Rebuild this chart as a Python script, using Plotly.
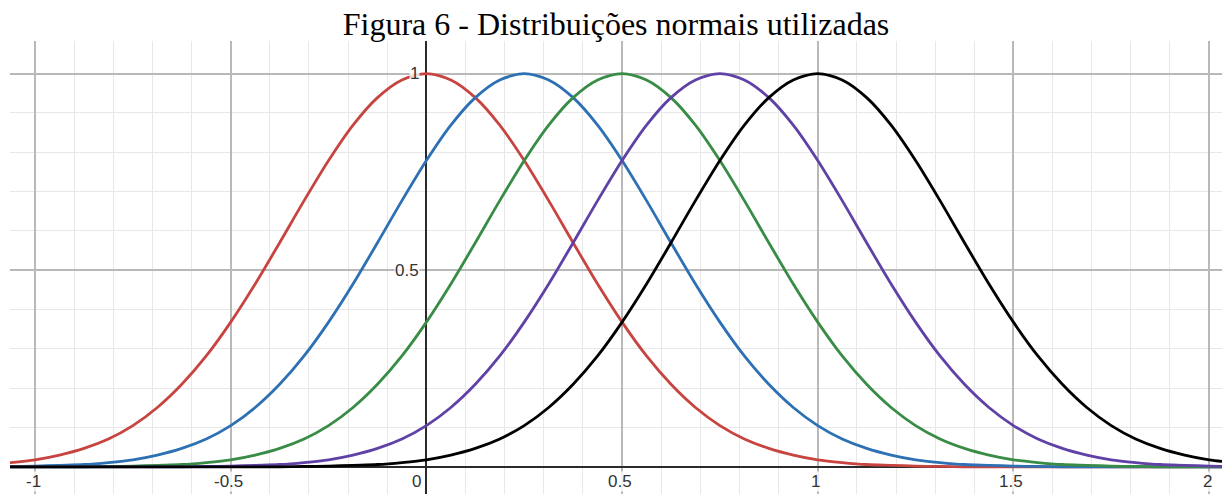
import plotly.graph_objects as go

# Sample positions along the horizontal axis (step 0.0625)
x_vals = [-1.125 + 0.0625 * i for i in range(53)]

# Curve heights at each sample position
red = [0.006, 0.011, 0.018, 0.030, 0.047, 0.071, 0.105, 0.151, 0.210, 0.282,
       0.368, 0.465, 0.570, 0.677, 0.779, 0.869, 0.939, 0.984,
       1.0,
       0.984, 0.939, 0.869, 0.779, 0.677, 0.570, 0.465, 0.368, 0.282, 0.210,
       0.151, 0.105, 0.071, 0.047, 0.030, 0.018, 0.011, 0.006, 0.004, 0.002, 0.001,
       0, 0, 0, 0, 0, 0, 0, 0, 0, 0, 0, 0, 0]
blue = [0, 0.001, 0.002, 0.004, 0.006, 0.011, 0.018, 0.030, 0.047, 0.071,
        0.105, 0.151, 0.210, 0.282, 0.368, 0.465, 0.570, 0.677, 0.779, 0.869,
        0.939, 0.984,
        1.0,
        0.984, 0.939, 0.869, 0.779, 0.677, 0.570, 0.465, 0.368, 0.282, 0.210,
        0.151, 0.105, 0.071, 0.047, 0.030, 0.018, 0.011, 0.006, 0.004, 0.002, 0.001,
        0, 0, 0, 0, 0, 0, 0, 0, 0]
green = [0, 0, 0, 0, 0,
         0.001, 0.002, 0.004, 0.006, 0.011, 0.018, 0.030, 0.047, 0.071, 0.105,
         0.151, 0.210, 0.282, 0.368, 0.465, 0.570, 0.677, 0.779, 0.869, 0.939, 0.984,
         1.0,
         0.984, 0.939, 0.869, 0.779, 0.677, 0.570, 0.465, 0.368, 0.282, 0.210,
         0.151, 0.105, 0.071, 0.047, 0.030, 0.018, 0.011, 0.006, 0.004, 0.002, 0.001,
         0, 0, 0, 0, 0]
purple = [0, 0, 0, 0, 0, 0, 0, 0, 0,
          0.001, 0.002, 0.004, 0.006, 0.011, 0.018, 0.030, 0.047, 0.071, 0.105,
          0.151, 0.210, 0.282, 0.368, 0.465, 0.570, 0.677, 0.779, 0.869, 0.939, 0.984,
          1.0,
          0.984, 0.939, 0.869, 0.779, 0.677, 0.570, 0.465, 0.368, 0.282, 0.210,
          0.151, 0.105, 0.071, 0.047, 0.030, 0.018, 0.011, 0.006, 0.004, 0.002, 0.001,
          0]
black = [0, 0, 0, 0, 0, 0, 0, 0, 0, 0, 0, 0, 0,
         0.001, 0.002, 0.004, 0.006, 0.011, 0.018, 0.030, 0.047, 0.071, 0.105,
         0.151, 0.210, 0.282, 0.368, 0.465, 0.570, 0.677, 0.779, 0.869, 0.939, 0.984,
         1.0,
         0.984, 0.939, 0.869, 0.779, 0.677, 0.570, 0.465, 0.368, 0.282, 0.210,
         0.151, 0.105, 0.071, 0.047, 0.030, 0.018, 0.011, 0.006]

series = [
    ("red", red, "#c74440"),
    ("blue", blue, "#2d70b3"),
    ("green", green, "#388c46"),
    ("purple", purple, "#6042a6"),
    ("black", black, "#000000"),
]

x_tick_vals = [-1, -0.5, 0, 0.5, 1, 1.5, 2]
x_tick_text = ["-1", "-0.5", "0", "0.5", "1", "1.5", "2"]
y_tick_vals = [0.5, 1]
y_tick_text = ["0.5", "1"]

fig = go.Figure()
for name, ys, color in series:
    fig.add_trace(go.Scatter(
        x=x_vals, y=ys, mode="lines", name=name,
        line=dict(color=color, width=2.8, shape="spline", smoothing=0.8),
        hoverinfo="skip", showlegend=False,
    ))

label_font = dict(family="Liberation Sans, Arial, sans-serif", size=17, color="#333333")

# Tick labels sit inside the plotting area, next to the axes
for v, t in zip(x_tick_vals, x_tick_text):
    if v == 0:
        fig.add_annotation(x=v, y=0, text=t, showarrow=False, xanchor="right",
                           yanchor="middle", xshift=-4, yshift=-15, font=label_font,
                           bgcolor="rgba(255,255,255,0.8)", borderpad=0)
    else:
        fig.add_annotation(x=v, y=0, text=t, showarrow=False, xanchor="center",
                           yanchor="middle", xshift=-2, yshift=-15, font=label_font,
                           bgcolor="rgba(255,255,255,0.8)", borderpad=0)
for v, t in zip(y_tick_vals, y_tick_text):
    fig.add_annotation(x=0, y=v, text=t, showarrow=False, xanchor="right",
                       yanchor="middle", xshift=-6, font=label_font,
                       bgcolor="rgba(255,255,255,0.8)", borderpad=0)

axis_common = dict(
    showticklabels=False, ticks="", showline=False,
    showgrid=True, gridcolor="#b9b9b9", gridwidth=1.6,
    zeroline=True, zerolinecolor="#2a2a2a", zerolinewidth=2,
    minor=dict(showgrid=True, gridcolor="#e8e8e8", gridwidth=1.2, dtick=0.1, tick0=0),
    tick0=0, dtick=0.5, fixedrange=True,
)

fig.update_layout(
    width=1224, height=494,
    margin=dict(l=10, r=2, t=41, b=0),
    paper_bgcolor="white", plot_bgcolor="white",
    title=dict(
        text="Figura 6 - Distribuições normais utilizadas",
        x=0.5, xanchor="center", xref="paper",
        y=1 - 24 / 494, yanchor="middle", yref="container",
        font=dict(family="Liberation Serif, Times New Roman, serif", size=32, color="#000000"),
    ),
    xaxis=dict(range=[-1.064, 2.033], **axis_common),
    yaxis=dict(range=[-0.069, 1.083], **axis_common),
)

fig.write_html("out.html")
